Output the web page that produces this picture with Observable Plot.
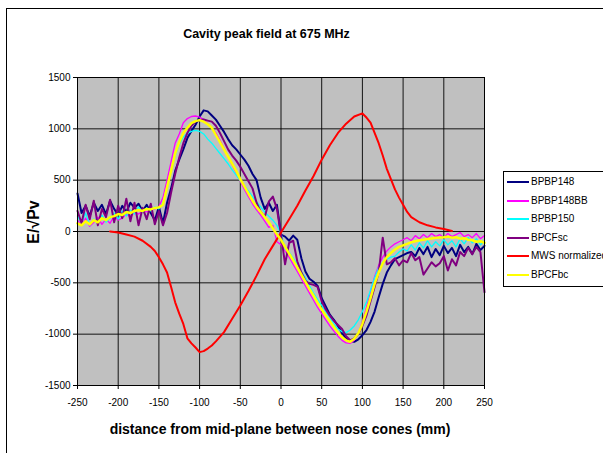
<!DOCTYPE html>
<html>
<head>
<meta charset="utf-8">
<script src="https://cdn.jsdelivr.net/npm/d3@7"></script>
<script src="https://cdn.jsdelivr.net/npm/@observablehq/plot@0.6"></script>
<style>
  html, body { margin: 0; padding: 0; background: #fff; }
  #wrap { position: relative; width: 603px; height: 453px; overflow: hidden; font-family: "Liberation Sans", Arial, sans-serif; }
  #chart { position: absolute; left: 0; top: 0; }
  .border { position: absolute; left: 6px; top: 8px; width: 640px; height: 480px; border: 1px solid #000; box-sizing: border-box; }
  .title { position: absolute; left: 0; width: 533px; top: 27px; text-align: center; font-weight: bold; font-size: 12.5px; }
  .xlabel { position: absolute; left: 0; width: 560px; top: 421px; text-align: center; font-weight: bold; font-size: 14px; }
  .ylabel { position: absolute; left: 34px; top: 222px; transform: translate(-50%, -50%) rotate(-90deg); font-weight: bold; font-size: 16px; white-space: nowrap; }
  .legend { position: absolute; left: 503px; top: 171px; width: 130px; height: 116px; border: 1px solid #000; box-sizing: border-box; background: #fff; }
  .item { position: absolute; left: 0; height: 14px; font-size: 10px; }
  .item .sw { position: absolute; left: 3px; top: 6px; width: 22px; height: 2px; }
  .item .lb { position: absolute; left: 27px; top: 0; white-space: nowrap; line-height: 14px; }
</style>
</head>
<body>
<div id="wrap">
  <div id="chart"></div>
  <div class="border"></div>
  <div class="title">Cavity peak field at 675 MHz</div>
  <div class="ylabel">E/√Pv</div>
  <div class="xlabel">distance from mid-plane between nose cones (mm)</div>
  <div class="legend" id="legend"></div>
</div>
<script>
const xTicks = [-250, -200, -150, -100, -50, 0, 50, 100, 150, 200, 250];
const yTicks = [-1500, -1000, -500, 0, 500, 1000, 1500];

const xs = [
  -250,-245,-240,-235,-230,-225,-220,-215,-210,-205,
  -200,-195,-190,-185,-180,-175,-170,-165,-160,-155,
  -150,-145,-140,-135,-130,-125,-120,-115,-110,-105,
  -100,-95,-90,-85,-80,-75,-70,-65,-60,-55,
  -50,-45,-40,-35,-30,-25,-20,-15,-10,-5,
  0,5,10,15,20,25,30,35,40,45,
  50,55,60,65,70,75,80,85,90,95,
  100,105,110,115,120,125,130,135,140,145,
  150,155,160,165,170,175,180,185,190,195,
  200,205,210,215,220,225,230,235,240,245,
  250
];

const BPBP148 = [
  370,180,250,150,280,200,260,170,300,220,
  160,250,190,280,230,270,200,260,180,110,
  240,80,280,420,590,700,800,910,980,1040,
  1120,1180,1170,1130,1090,1030,970,900,840,800,
  750,700,640,560,500,330,220,280,200,260,
  -30,-50,-90,-40,-80,-260,-390,-460,-490,-530,
  -650,-730,-810,-860,-920,-990,-1040,-1070,-1075,-1050,
  -1010,-960,-880,-780,-640,-510,-400,-330,-270,-250,
  -230,-210,-200,-240,-160,-220,-150,-250,-170,-230,
  -140,-210,-160,-240,-130,-200,-150,-220,-120,-180,
  -140
];

const BPBP148BB = [
  110,60,130,50,90,140,70,120,80,150,
  110,130,170,140,190,170,200,190,210,220,
  240,330,500,680,860,950,1060,1100,1120,1125,
  1115,1090,1050,1010,960,890,810,730,650,570,
  490,410,340,270,210,160,100,40,60,-100,
  -130,-190,-250,-320,-390,-460,-530,-600,-670,-740,
  -800,-860,-920,-970,-1020,-1060,-1085,-1090,-1060,-990,
  -880,-740,-590,-440,-330,-250,-190,-150,-120,-100,
  -80,-60,-90,-40,-70,-30,-60,-20,-50,-30,
  -60,-20,-50,-30,-10,-50,-30,-60,-20,-70,
  -40
];

const BPBP150 = [
  150,80,180,60,120,100,160,90,130,180,
  120,200,150,210,170,240,190,230,200,240,
  220,280,420,580,740,850,920,955,975,985,
  975,950,900,860,810,760,710,660,600,550,
  495,445,395,340,290,240,190,150,110,60,
  -20,-170,-200,-260,-320,-390,-450,-530,-600,-660,
  -720,-780,-840,-900,-950,-975,-985,-960,-920,-860,
  -780,-690,-570,-450,-350,-300,-270,-250,-240,-200,
  -170,-190,-130,-180,-110,-160,-90,-150,-100,-140,
  -80,-130,-90,-150,-70,-120,-60,-110,-70,-130,
  -90
];

const BPCFsc = [
  200,80,260,120,300,60,220,140,310,90,
  250,130,320,100,280,60,230,120,270,70,
  200,60,180,380,560,720,860,960,1030,1070,
  1085,1090,1080,1070,1030,960,880,800,740,690,
  630,560,490,420,280,190,140,290,340,220,
  -30,-320,-110,-90,-290,-400,-480,-510,-520,-540,
  -680,-760,-820,-870,-910,-950,-1020,-1060,-1040,-1000,
  -920,-820,-680,-540,-400,-60,-320,-300,-260,-330,
  -280,-300,-210,-280,-250,-420,-360,-300,-340,-310,
  -240,-380,-270,-330,-200,-240,-160,-220,-150,-200,
  -590
];

const BPCFbc = [
  80,60,100,70,110,90,130,110,140,150,
  170,160,190,180,200,210,200,220,215,230,
  235,260,430,590,760,870,960,1010,1055,1075,
  1085,1070,1045,1010,940,870,800,730,660,590,
  510,440,370,300,240,190,140,90,30,-30,
  -80,-150,-215,-280,-350,-420,-490,-560,-625,-695,
  -760,-820,-875,-930,-985,-1030,-1060,-1075,-1045,-990,
  -900,-780,-650,-510,-400,-310,-250,-210,-175,-150,
  -135,-120,-105,-95,-85,-80,-72,-68,-60,-58,
  -55,-50,-60,-55,-70,-65,-80,-85,-100,-95,
  -110
];

const mwsX = [-210,-200,-190,-180,-170,-160,-155,-150,-145,-140,-135,-130,-125,-120,-115,-110,-105,-100,-95,-90,-85,-80,-70,-60,-50,-40,-30,-20,-10,0,10,20,30,40,50,60,70,80,90,100,105,110,115,120,125,130,135,140,145,150,155,160,170,180,190,200,210];
const mwsY = [0,-10,-30,-50,-90,-150,-190,-250,-320,-400,-540,-690,-800,-900,-1040,-1090,-1130,-1175,-1165,-1140,-1110,-1070,-980,-850,-720,-580,-430,-270,-140,-10,120,250,400,540,700,840,960,1050,1120,1150,1110,1060,960,860,740,610,510,410,330,260,190,140,90,60,40,25,5];

const seriesNames = ["BPBP148", "BPBP148BB", "BPBP150", "BPCFsc", "MWS normalized", "BPCFbc"];
const seriesColors = ["#000080", "#FF00FF", "#00FFFF", "#800080", "#FF0000", "#FFFF00"];
const seriesWidths = [2, 1.3, 1.3, 2, 2, 2.5];

const measured = {BPBP148, BPBP148BB, BPBP150, BPCFsc, BPCFbc};
function rowsFor(name) {
  if (name === "MWS normalized") return mwsX.map((x, i) => ({x, y: mwsY[i]}));
  return xs.map((x, i) => ({x, y: measured[name][i]}));
}

const lineMarks = seriesNames.map((name, k) =>
  Plot.line(rowsFor(name), {x: "x", y: "y", stroke: seriesColors[k], strokeWidth: seriesWidths[k], strokeLinejoin: "round"})
);

const fmt = d => String(d);

const chart = Plot.plot({
  width: 603,
  height: 453,
  marginLeft: 77,
  marginRight: 119,
  marginTop: 77,
  marginBottom: 68,
  style: {fontFamily: "'Liberation Sans', Arial, sans-serif", fontSize: "10px", color: "#000", background: "#fff"},
  x: {domain: [-250, 250]},
  y: {domain: [-1500, 1500]},
  marks: [
    Plot.frame({fill: "#C0C0C0"}),
    Plot.gridX(xTicks, {stroke: "#000", strokeOpacity: 0.9, strokeWidth: 1}),
    Plot.gridY(yTicks, {stroke: "#000", strokeOpacity: 0.9, strokeWidth: 1}),
    ...lineMarks,
    Plot.frame({stroke: "#000", strokeWidth: 1}),
    Plot.axisX(xTicks, {tickFormat: fmt, tickSize: 4, tickPadding: 9, label: null, fill: "#000", stroke: "#000"}),
    Plot.axisY(yTicks, {tickFormat: fmt, tickSize: 4, tickPadding: 3, label: null, fill: "#000", stroke: "#000"})
  ]
});
document.getElementById("chart").appendChild(chart);

const legend = document.getElementById("legend");
const legendTops = [3, 22, 40, 59, 77, 96];
seriesNames.forEach((name, k) => {
  const it = document.createElement("div");
  it.className = "item";
  it.style.top = legendTops[k] + "px";
  it.innerHTML = `<div class="sw" style="background:${seriesColors[k]}"></div><div class="lb">${name}</div>`;
  legend.appendChild(it);
});
</script>
</body>
</html>
